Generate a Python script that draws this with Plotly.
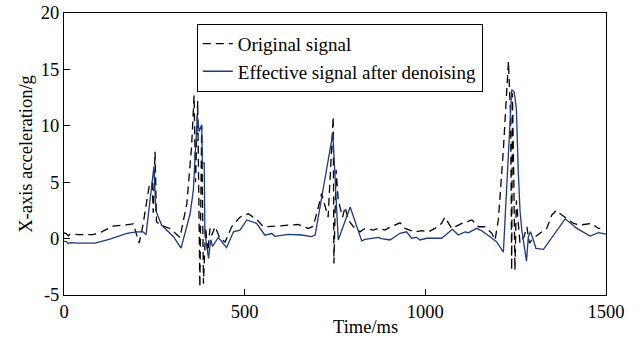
import plotly.graph_objects as go

# Original signal (dashed black)
orig_t = [0, 6, 12, 17, 40, 81, 104, 136, 164, 192, 208, 218, 236, 244, 247, 252, 256, 266, 293, 321,
          340, 353, 360, 364, 370, 376, 381, 386, 392, 398, 404, 409, 418, 432, 446, 464, 487, 510, 533,
          552, 584, 648, 676, 690, 704, 713, 731, 745, 747, 753, 759, 771, 778, 787, 801, 819, 833, 856,
          870, 888, 902, 916, 930, 944, 971, 990, 1008, 1027, 1045, 1054, 1073, 1101, 1129, 1148, 1165,
          1184, 1193, 1202, 1216, 1230, 1236, 1239, 1241, 1245, 1248, 1252, 1257, 1262, 1273, 1281, 1288,
          1299, 1317, 1336, 1350, 1363, 1373, 1387, 1410, 1428, 1460, 1479, 1484]
orig_v = [0.5, 0.45, 0.25, 0.4, 0.35, 0.35, 0.6, 1.1, 1.2, 1.3, -0.4, 1.1, 4.7, 5.0, 2.3, 7.7, 1.5, 1.2, 0.9, 0.1,
          3.1, 8.1, 12.7, 5.0, 12.2, -4.3, 10.0, -4.0, 1.0, -1.2, 0.9, 0.3, 1.05, 0.0, -0.3, 1.05, 1.9, 2.2, 1.7,
          1.05, 1.1, 1.25, 0.9, 1.1, 2.8, 4.0, 1.9, 10.8, -2.2, 6.1, 3.4, 1.9, 2.8, 1.65, 1.05, 0.6, 0.9, 0.76,
          0.9, 0.76, 1.0, 1.2, 1.4, 0.9, 0.6, 0.7, 0.6, 0.9, 1.35, 1.9, 0.9, 1.35, 1.65, 1.05, 1.05,
          0.47, -0.12, 1.65, 7.9, 15.7, 10.8, -2.8, 12.9, 4.9, -2.8, 3.4, 1.35, -0.4, 0.17, 1.05, -0.4,
          0.03, 0.47, 0.9, 2.1, 2.5, 2.2, 1.9, 1.35, 1.2, 1.35, 0.9, 0.9]

# Effective signal after denoising (blue)
eff_t = [0, 7, 12, 17, 40, 86, 127, 174, 201, 219, 227, 249, 254, 270, 303, 324, 349, 358, 369, 374, 381,
         383, 388, 390, 400, 406, 411, 427, 450, 464, 469, 487, 506, 533, 556, 575, 584, 621, 658, 685, 695,
         744, 759, 792, 824, 833, 870, 879, 902, 916, 930, 948, 962, 976, 985, 1004, 1045, 1075, 1091, 1110,
         1119, 1142, 1156, 1179, 1197, 1216, 1239, 1246, 1252, 1257, 1262, 1267, 1280, 1285, 1291, 1299, 1306,
         1327, 1345, 1387, 1419, 1456, 1479, 1500]
eff_v = [-0.25, -0.27, -0.45, -0.35, -0.4, -0.4, -0.05, 0.47, 0.6, 0.6, 0.35, 6.4, 2.5, 1.2, 0.17, -0.85, 2.2, 4.3,
         10.9, 9.5, 10.1, 6.7, 6.7, 0.47, -1.75, -0.1, -0.7, 0.1, -0.8, 0.2, 0.6, 0.75, 1.65, 1.35, 0.3, 0.45,
         0.2, 0.38, 0.32, 0.17, 0.32, 9.3, -0.12, 2.8, -0.2, -0.07, 0.1, 0.0, -0.12, 0.17, 0.47, 0.6, 0.03, 0.11,
         -0.12, 0.03, 0.03, 0.82, 0.32, 0.6, 0.52, 0.91, 0.7, 0.17, -0.27, -1.2, 13.2, 13.0, 11.5, 6.1, 2.5, 0.76,
         -2.0, 0.17, 0.6, -0.12, -0.86, -0.95, -0.12, 1.75, 0.91, 0.23, 0.52, 0.4]

x_ticks = [0, 500, 1000, 1500]
y_ticks = [-5, 0, 5, 10, 15, 20]
y_tick_text = ["-5", "0", "5", "10", "15", "20"]

FONT = "Times New Roman, Liberation Serif, serif"
FS = 18.5

fig = go.Figure()
fig.add_trace(go.Scatter(x=orig_t, y=orig_v, mode="lines", name="Original signal",
                         line=dict(color="black", width=1.3, dash="8px,5px")))
fig.add_trace(go.Scatter(x=eff_t, y=eff_v, mode="lines", name="Effective signal after denoising",
                         line=dict(color="#1b3a80", width=1.3)))

axis_common = dict(showgrid=False, zeroline=False, showline=True, linecolor="black", linewidth=1,
                   mirror=True, ticks="inside", ticklen=6, tickcolor="black", automargin=False,
                   ticklabeloverflow="allow",
                   tickfont=dict(family=FONT, size=FS, color="black"))

fig.update_layout(
    width=641, height=341,
    margin=dict(l=64, r=35, t=13, b=46),
    paper_bgcolor="white", plot_bgcolor="white",
    font=dict(family=FONT, size=FS, color="black"),
    xaxis=dict(range=[0, 1500], tickvals=x_ticks, **axis_common),
    yaxis=dict(range=[-5, 20], tickvals=y_ticks, ticktext=y_tick_text,
               title=dict(text="X-axis acceleration/g", font=dict(family=FONT, size=FS), standoff=3),
               **axis_common),
    legend=dict(x=0.245, y=0.962, xanchor="left", yanchor="top", bgcolor="white",
                bordercolor="black", borderwidth=1, font=dict(family=FONT, size=19)),
    showlegend=True,
)
fig.add_annotation(text="Time/ms", xref="paper", yref="paper", x=0.557, y=-0.07,
                   xanchor="center", yanchor="top", showarrow=False,
                   font=dict(family=FONT, size=FS, color="black"))

fig.write_html("out.html", config={"displayModeBar": False},
               post_script="document.body.style.margin='0px';document.body.style.overflow='hidden';")
